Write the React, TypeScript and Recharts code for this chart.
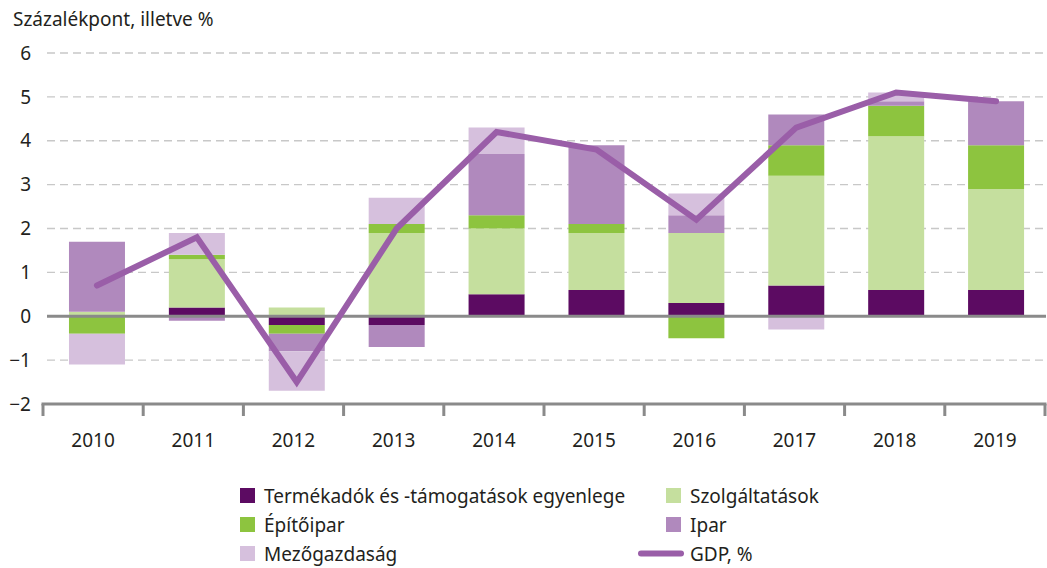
import React from "react"
import { Bar, ComposedChart, Line, XAxis, YAxis, CartesianGrid, ReferenceLine } from "recharts"

const years = ["2010", "2011", "2012", "2013", "2014", "2015", "2016", "2017", "2018", "2019"]
const termekadok = [0, 0.2, -0.2, -0.2, 0.5, 0.6, 0.3, 0.7, 0.6, 0.6]
const szolgaltatasok = [0.1, 1.1, 0.2, 1.9, 1.5, 1.3, 1.6, 2.5, 3.5, 2.3]
const epitoipar = [-0.4, 0.1, -0.2, 0.2, 0.3, 0.2, -0.5, 0.7, 0.7, 1.0]
const ipar = [1.6, -0.1, -0.4, -0.5, 1.4, 1.8, 0.4, 0.7, 0.1, 1.0]
const mezogazdasag = [-0.7, 0.5, -0.9, 0.6, 0.6, 0, 0.5, -0.3, 0.2, 0]
const gdp = [0.7, 1.8, -1.5, 2.0, 4.2, 3.8, 2.2, 4.3, 5.1, 4.9]
const yTicks = [-2, -1, 0, 1, 2, 3, 4, 5, 6]

const data = years.map((year, i) => ({
  year,
  termekadok: termekadok[i],
  szolgaltatasok: szolgaltatasok[i],
  epitoipar: epitoipar[i],
  ipar: ipar[i],
  mezogazdasag: mezogazdasag[i],
  gdp: gdp[i],
}))

const W = 1047
const H = 568
const M = { top: 53, right: 1, bottom: 114, left: 4 }
const Y_AXIS_W = 43

// the category axis line runs a bit wider than the plot area
const AX0 = 43
const AX1 = 1045
const STEP = (AX1 - AX0) / years.length

const FONT = "'Noto Sans', sans-serif"
const TEXT = "#231f20"
const AXIS = "#8a8a8a"

const C = {
  termekadok: "#5c0b62",
  szolgaltatasok: "#c5df9e",
  epitoipar: "#8dc43f",
  ipar: "#b089bd",
  mezogazdasag: "#d6c0dd",
  gdp: "#9a5ea8",
}

const fmt = (v: number) => (v < 0 ? `\u2212${Math.abs(v)}` : `${v}`)

function YearTick(props: any) {
  const { y, payload, index } = props
  const left = AX0 + index * STEP
  const last = index === years.length - 1
  return (
    <g>
      {index === 0 && <line x1={AX0 - 1.5} x2={AX1 + 1.5} y1={y} y2={y} stroke={AXIS} strokeWidth={3} />}
      <line x1={left} x2={left} y1={y} y2={y + 12} stroke={AXIS} strokeWidth={3} />
      {last && <line x1={AX1} x2={AX1} y1={y} y2={y + 12} stroke={AXIS} strokeWidth={3} />}
      <text x={left + STEP / 2} y={y + 43} textAnchor="middle" fill={TEXT} fontSize={19} fontFamily={FONT}>
        {payload.value}
      </text>
    </g>
  )
}

const legendItems = [
  { label: "Termékadók és -támogatások egyenlege", color: C.termekadok, col: 0, row: 0 },
  { label: "Szolgáltatások", color: C.szolgaltatasok, col: 1, row: 0 },
  { label: "Építőipar", color: C.epitoipar, col: 0, row: 1 },
  { label: "Ipar", color: C.ipar, col: 1, row: 1 },
  { label: "Mezőgazdaság", color: C.mezogazdasag, col: 0, row: 2 },
]

function Overlay() {
  const colX = [240, 666]
  const rowY = [488, 517, 546]
  return (
    <svg width={W} height={H} style={{ position: "absolute", left: 0, top: 0, pointerEvents: "none" }}>
      <text x={13} y={26} fill={TEXT} fontSize={19} fontFamily={FONT}>
        Százalékpont, illetve %
      </text>
      {legendItems.map((it) => (
        <g key={it.label}>
          <rect x={colX[it.col]} y={rowY[it.row]} width={15} height={15} fill={it.color} />
          <text x={colX[it.col] + 24} y={rowY[it.row] + 15} fill={TEXT} fontSize={19} fontFamily={FONT}>
            {it.label}
          </text>
        </g>
      ))}
      <line x1={641} x2={681} y1={rowY[2] + 7.5} y2={rowY[2] + 7.5} stroke={C.gdp} strokeWidth={6} strokeLinecap="round" />
      <text x={690} y={rowY[2] + 15} fill={TEXT} fontSize={19} fontFamily={FONT}>
        GDP, %
      </text>
    </svg>
  )
}

export default function App() {
  return (
    <div style={{ position: "absolute", left: 0, top: 0, width: W, height: H, background: "#fff" }}>
      <ComposedChart width={W} height={H} data={data} margin={M} stackOffset="sign" barCategoryGap="22%">
        <CartesianGrid vertical={false} stroke="#c8c8c8" strokeWidth={1.3} strokeDasharray="8 5" />
        <XAxis
          dataKey="year"
          height={50}
          axisLine={false}
          tickLine={false}
          tickSize={0}
          tickMargin={0}
          tick={<YearTick />}
          interval={0}
        />
        <YAxis
          width={Y_AXIS_W}
          domain={[-2, 6]}
          ticks={yTicks}
          axisLine={false}
          tickLine={false}
          tickSize={0}
          tickMargin={16}
          tickFormatter={fmt}
          tick={{ fill: TEXT, fontSize: 19, fontFamily: FONT }}
        />
        <Bar dataKey="termekadok" stackId="a" fill={C.termekadok} isAnimationActive={false} />
        <Bar dataKey="szolgaltatasok" stackId="a" fill={C.szolgaltatasok} isAnimationActive={false} />
        <Bar dataKey="epitoipar" stackId="a" fill={C.epitoipar} isAnimationActive={false} />
        <Bar dataKey="ipar" stackId="a" fill={C.ipar} isAnimationActive={false} />
        <Bar dataKey="mezogazdasag" stackId="a" fill={C.mezogazdasag} isAnimationActive={false} />
        <ReferenceLine y={0} stroke={AXIS} strokeWidth={3} />
        <Line
          dataKey="gdp"
          type="linear"
          stroke={C.gdp}
          strokeWidth={6}
          strokeLinecap="round"
          dot={false}
          activeDot={false}
          isAnimationActive={false}
        />
      </ComposedChart>
      <Overlay />
    </div>
  )
}
